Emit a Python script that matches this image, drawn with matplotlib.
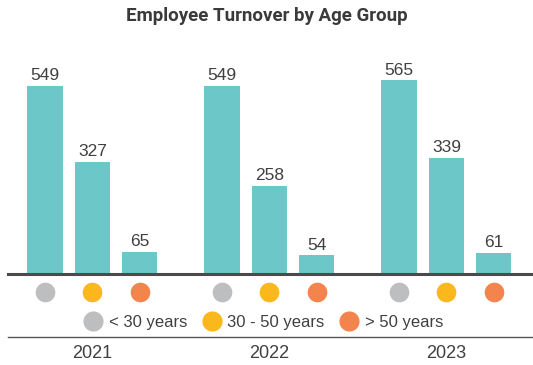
import matplotlib.pyplot as plt
from matplotlib.lines import Line2D
import matplotlib.transforms as mtransforms

years = ['2021', '2022', '2023']
age_groups = ['< 30 years', '30 - 50 years', '> 50 years']
under_30 = [549, 549, 565]
from_30_to_50 = [327, 258, 339]
over_50 = [65, 54, 61]

bar_color = '#6cc8c8'
group_colors = ['#bdbec0', '#fbb81c', '#f4844e']
text_color = '#404040'

W, H = 533, 365
fig = plt.figure(figsize=(W / 100, H / 100), dpi=100)
# plotting area: baseline at y=274px, spans from x=8px to the right edge
ax = fig.add_axes([8 / W, (H - 274) / H, (W - 8) / W, (274 - 40) / H])

step = 0.268
width = 0.198
series = [under_30, from_30_to_50, over_50]
for k, vals in enumerate(series):
    xs = [g + (k - 1) * step for g in range(len(years))]
    bars = ax.bar(xs, vals, width=width, color=bar_color, zorder=2)
    for b, v in zip(bars, vals):
        ax.text(b.get_x() + b.get_width() / 2, v + 8, str(v), ha='center', va='bottom',
                fontsize=12.5, color=text_color, family='Liberation Sans')

ax.set_xlim(-0.477, 2.489)
ax.set_ylim(0, 683)
for s in ['top', 'left', 'right']:
    ax.spines[s].set_visible(False)
ax.spines['bottom'].set_color('#4a4a4a')
ax.spines['bottom'].set_linewidth(2.2)
ax.set_xticks([])
ax.set_yticks([])

# colored markers under each bar
trans = mtransforms.blended_transform_factory(ax.transData, fig.transFigure)
for k in range(3):
    xs = [g + (k - 1) * step for g in range(len(years))]
    ax.scatter(xs, [(H - 292) / H] * len(xs), s=200, color=group_colors[k],
               transform=trans, clip_on=False, linewidths=0)

# year labels
for g, y in enumerate(years):
    ax.text(g, (H - 353) / H, y, transform=trans, ha='center', va='center',
            fontsize=13, color=text_color, family='Liberation Sans')

# separator line above year labels
fig.add_artist(Line2D([8 / W, 1], [(H - 337) / H] * 2, transform=fig.transFigure,
                      color='#555555', linewidth=1))

handles = [Line2D([], [], marker='o', linestyle='', markersize=14.5,
                  markerfacecolor=c, markeredgewidth=0) for c in group_colors]
leg = fig.legend(handles, age_groups, loc='center', bbox_to_anchor=(264 / W, (H - 322) / H),
                 ncol=3, frameon=False, handlelength=1.0, handletextpad=0.45,
                 columnspacing=0.95, prop={'family': 'Liberation Sans', 'size': 12})
for t in leg.get_texts():
    t.set_color(text_color)

fig.text(267 / W, (H - 16) / H, 'Employee Turnover by Age Group', ha='center', va='center',
         fontsize=13.5, fontweight='bold', color='#3a3a3a', family='Roboto')

fig.savefig('out.png', dpi=100)
